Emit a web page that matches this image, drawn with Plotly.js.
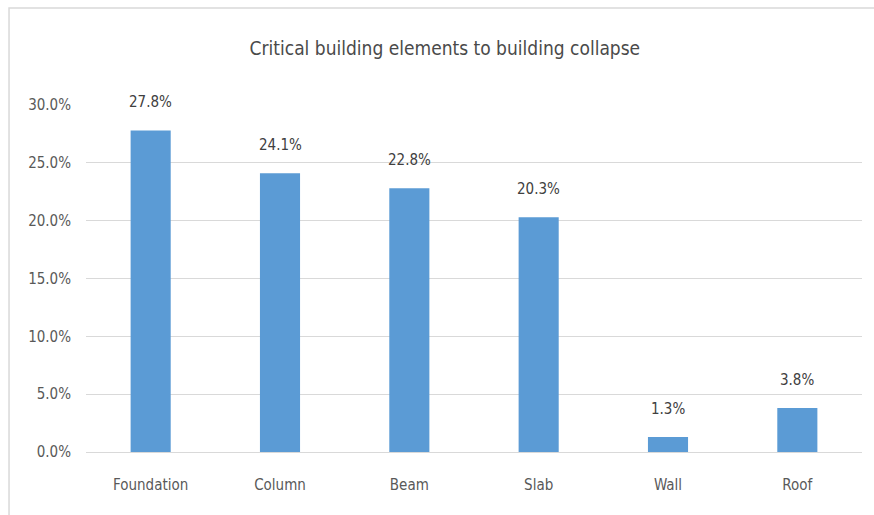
<!DOCTYPE html>
<html>
<head>
<meta charset="utf-8">
<script src="https://cdn.plot.ly/plotly-3.0.1.min.js"></script>
<style>html,body{margin:0;padding:0;background:#fff;}#chart{width:874px;height:515px;}</style>
</head>
<body>
<div id="chart"></div>
<script>
const categories = ["Foundation", "Column", "Beam", "Slab", "Wall", "Roof"];
const values = [27.8, 24.1, 22.8, 20.3, 1.3, 3.8];
const labels = ["27.8%", "24.1%", "22.8%", "20.3%", "1.3%", "3.8%"];
const yTicks = [0, 5, 10, 15, 20, 25, 30];
const yTickLabels = ["0.0%", "5.0%", "10.0%", "15.0%", "20.0%", "25.0%", "30.0%"];

const FONT = '"Liberation Sans Narrow", "DejaVu Sans Condensed", "Roboto", sans-serif';

const trace = {
  type: 'bar',
  x: categories,
  y: values,
  marker: {color: '#5b9bd5'},
  width: 0.31,
  hoverinfo: 'none'
};

const annotations = categories.map((c, i) => ({
  x: c, y: values[i], xref: 'x', yref: 'y',
  text: labels[i], showarrow: false,
  yanchor: 'bottom', yshift: 17,
  font: {family: FONT, size: 15, color: '#404040'}
}));

const layout = {
  width: 874, height: 515,
  margin: {l: 86, r: 12, t: 105, b: 63},
  paper_bgcolor: '#ffffff', plot_bgcolor: '#ffffff',
  showlegend: false,
  title: {text: 'Critical building elements to building collapse', x: 0.509, xanchor: 'center', y: 0.906, yanchor: 'middle', yref: 'container',
          font: {family: FONT, size: 19, color: '#4a4a4a'}},
  xaxis: {showgrid: false, showline: false, zeroline: false, ticks: '', ticklabelstandoff: 22,
          tickfont: {family: FONT, size: 15, color: '#595959'}},
  yaxis: {range: [0, 30], tickvals: yTicks, ticktext: yTickLabels, showgrid: true, gridcolor: '#d9d9d9', gridwidth: 1,
          zeroline: true, zerolinecolor: '#d9d9d9', zerolinewidth: 1, showline: false, ticks: '', ticklabelstandoff: 14,
          tickfont: {family: FONT, size: 15, color: '#595959'}},
  annotations: annotations,
  shapes: [{type: 'rect', xref: 'paper', yref: 'paper', x0: -0.0992, x1: 1.2, y0: -0.4, y1: 1.2795,
            line: {color: '#d9d9d9', width: 1.5}, fillcolor: 'rgba(0,0,0,0)', layer: 'below'}]
};

Plotly.newPlot('chart', [trace], layout, {displayModeBar: false, staticPlot: true});
</script>
</body>
</html>
